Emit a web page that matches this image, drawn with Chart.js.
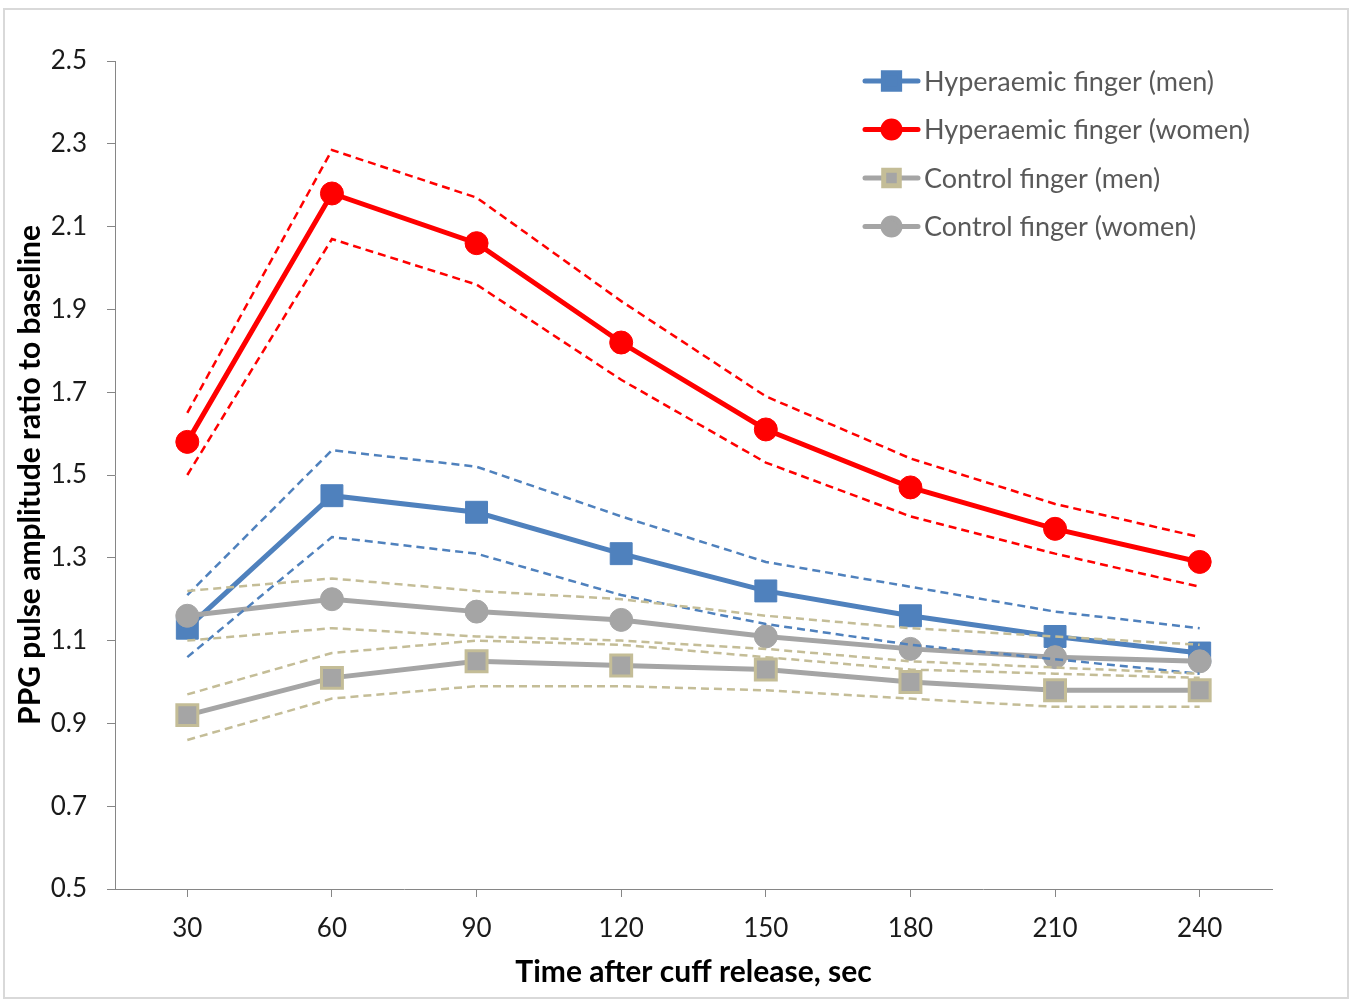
<!DOCTYPE html>
<html>
<head>
<meta charset="utf-8">
<script src="https://cdn.jsdelivr.net/npm/chart.js@4.4.1/dist/chart.umd.min.js"></script>
<style>
  html, body { margin: 0; padding: 0; background: #fff; }
  #wrap { position: relative; width: 1352px; height: 1005px; }
  #frame { position: absolute; left: 3px; top: 8px; width: 1346px; height: 991px; box-sizing: border-box; border: 2px solid #D9D9D9; pointer-events: none; }
  canvas { display: block; }
</style>
</head>
<body>
<div id="wrap">
  <canvas id="c" width="1352" height="1005"></canvas>
  <div id="frame"></div>
</div>
<script>
// ---- Data ----
const categories = ['30', '60', '90', '120', '150', '180', '210', '240'];

const hypMen      = [1.13, 1.45, 1.41, 1.31, 1.22, 1.16, 1.11, 1.07];
const hypMenUpper = [1.21, 1.56, 1.52, 1.40, 1.29, 1.23, 1.17, 1.13];
const hypMenLower = [1.06, 1.35, 1.31, 1.21, 1.14, 1.09, 1.055, 1.02];

const hypWomen      = [1.58, 2.18, 2.06, 1.82, 1.61, 1.47, 1.37, 1.29];
const hypWomenUpper = [1.65, 2.285, 2.17, 1.92, 1.69, 1.54, 1.43, 1.35];
const hypWomenLower = [1.50, 2.07, 1.96, 1.73, 1.53, 1.40, 1.31, 1.23];

const ctrlMen      = [0.92, 1.01, 1.05, 1.04, 1.03, 1.00, 0.98, 0.98];
const ctrlMenUpper = [0.97, 1.07, 1.10, 1.09, 1.06, 1.03, 1.02, 1.01];
const ctrlMenLower = [0.86, 0.96, 0.99, 0.99, 0.98, 0.96, 0.94, 0.94];

const ctrlWomen      = [1.16, 1.20, 1.17, 1.15, 1.11, 1.08, 1.06, 1.05];
const ctrlWomenUpper = [1.22, 1.25, 1.22, 1.20, 1.16, 1.13, 1.11, 1.09];
const ctrlWomenLower = [1.10, 1.13, 1.11, 1.10, 1.08, 1.05, 1.035, 1.02];

const seriesNames = ['Hyperaemic finger (men)', 'Hyperaemic finger (women)', 'Control finger (men)', 'Control finger (women)'];
const yTitle = 'PPG pulse amplitude ratio to baseline';
const xTitle = 'Time after cuff release, sec';

// ---- Styles ----
const BLUE = '#4F81BD', RED = '#FF0000', GREY = '#A5A5A5', TAN = '#C4BD97';
const FONT = 'Lato, Carlito, "Open Sans", sans-serif';

function mainDs(label, data, color, style, radius, borderColor, bw, order) {
  return {
    label, data,
    borderColor: color, backgroundColor: color,
    borderWidth: 5,
    pointStyle: style, pointRadius: radius, pointHoverRadius: radius,
    pointBackgroundColor: color, pointBorderColor: borderColor, pointBorderWidth: bw,
    tension: 0, fill: false, order
  };
}
function ciDs(data, color, order) {
  return {
    label: '_ci', data,
    borderColor: color, borderWidth: 2.5, borderDash: [8, 5],
    pointRadius: 0, pointHoverRadius: 0, tension: 0, fill: false, order
  };
}

const datasets = [
  mainDs(seriesNames[0], hypMen, BLUE, 'rect', 15.5, BLUE, 1, 14),
  mainDs(seriesNames[1], hypWomen, RED, 'circle', 11.5, RED, 1, 13),
  mainDs(seriesNames[2], ctrlMen, GREY, 'rect', 14.8, TAN, 3, 12),
  mainDs(seriesNames[3], ctrlWomen, GREY, 'circle', 11.5, GREY, 1, 11),
  ciDs(hypMenUpper, BLUE, 8), ciDs(hypMenLower, BLUE, 8),
  ciDs(hypWomenUpper, RED, 7), ciDs(hypWomenLower, RED, 7),
  ciDs(ctrlMenUpper, TAN, 6), ciDs(ctrlMenLower, TAN, 6),
  ciDs(ctrlWomenUpper, TAN, 5), ciDs(ctrlWomenLower, TAN, 5)
];

// Custom legend: line + marker + label, stacked at top-right of the plot
const legendPlugin = {
  id: 'lineMarkerLegend',
  afterDraw(chart) {
    const ctx = chart.ctx;
    const area = chart.chartArea;
    const x0 = area.right - 407, x1 = area.right - 354, xm = (x0 + x1) / 2;
    const y0 = area.top + 20, dy = 48.5;
    ctx.save();
    for (let i = 0; i < seriesNames.length; i++) {
      const ds = chart.data.datasets[i];
      const y = y0 + i * dy;
      ctx.strokeStyle = ds.borderColor;
      ctx.lineWidth = 5;
      ctx.lineCap = 'round';
      ctx.beginPath(); ctx.moveTo(x0, y); ctx.lineTo(x1, y); ctx.stroke();
      ctx.fillStyle = ds.pointBackgroundColor;
      ctx.strokeStyle = ds.pointBorderColor;
      const r = ds.pointStyle === 'rect' ? 11.5 : 8.5;
      const thick = ds.pointBorderWidth > 1;
      Chart.helpers.drawPoint(ctx, { pointStyle: ds.pointStyle, radius: thick ? r - 0.5 : r, rotation: 0, borderWidth: thick ? 1.5 : 1 }, xm, y);
      ctx.fillStyle = '#595959';
      ctx.font = '27px ' + FONT;
      ctx.textBaseline = 'middle';
      ctx.textAlign = 'left';
      ctx.fillText(seriesNames[i], x1 + 6, y + 1);
    }
    ctx.restore();
  }
};

new Chart(document.getElementById('c'), {
  type: 'line',
  data: { labels: categories, datasets },
  plugins: [legendPlugin],
  options: {
    responsive: false,
    animation: false,
    events: [],
    layout: { padding: { left: 0, right: 80, top: 61, bottom: 0 } },
    plugins: { legend: { display: false }, tooltip: { enabled: false } },
    scales: {
      x: {
        type: 'category',
        offset: true,
        grid: { display: true, drawOnChartArea: false, drawTicks: true, tickLength: 8, color: '#868686', offset: false },
        border: { display: true, color: '#868686', width: 1 },
        ticks: { color: '#1a1a1a', font: { family: FONT, size: 26 }, padding: 16, maxRotation: 0 },
        title: { display: true, text: xTitle, color: '#000', font: { family: FONT, size: 30, weight: 'bold' }, padding: { top: 0, bottom: 15 } },
        afterFit(scale) { scale.height = 116; }
      },
      y: {
        min: 0.5, max: 2.5,
        ticks: { stepSize: 0.2, color: '#1a1a1a', font: { family: FONT, size: 26 }, padding: 20,
                 callback: (v) => Number(v).toFixed(1) },
        grid: { display: true, drawOnChartArea: false, drawTicks: true, tickLength: 8, color: '#868686' },
        border: { display: true, color: '#868686', width: 1 },
        title: { display: true, text: yTitle, color: '#000', font: { family: FONT, size: 30, weight: 'bold' }, padding: { top: 12, bottom: 0 } },
        afterFit(scale) { scale.width = 115; }
      }
    }
  }
});
</script>
</body>
</html>
